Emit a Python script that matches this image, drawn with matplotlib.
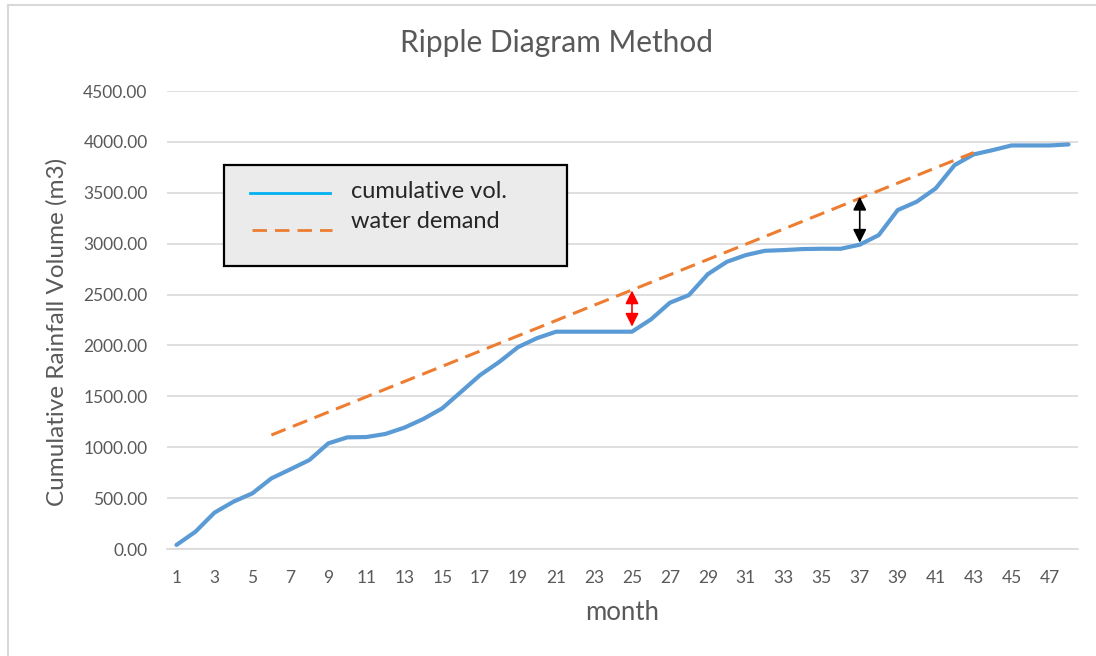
import matplotlib.pyplot as plt
from matplotlib.lines import Line2D
from matplotlib.patches import Rectangle

# monthly cumulative rainfall volume (m3), months 1..48
months = list(range(1, 49))
cumulative_vol = [40, 170, 357, 465, 547, 694, 783, 874, 1038, 1097,
                  1100, 1130, 1192, 1277, 1382, 1545, 1709, 1837, 1984, 2072,
                  2135, 2135, 2135, 2135, 2135, 2256, 2420, 2495, 2701, 2822,
                  2888, 2930, 2937, 2947, 2950, 2950, 2990, 3084, 3330, 3412,
                  3543, 3772, 3877, 3919, 3965, 3965, 3965, 3975]

# water demand line (straight), read at its two ends
demand_months = [6, 43]
demand_vals = [1120, 3895]

# gap arrows between demand and cumulative volume
gap_months = [25, 37]
gap_tops = [2540, 3460]
gap_bottoms = [2185, 3010]
gap_colors = ['red', 'black']

y_ticks = list(range(0, 4501, 500))
x_tick_labels = list(range(1, 48, 2))

plt.rcParams['font.family'] = ['Lato', 'DejaVu Sans']
text_col = '#595959'
W, H = 1096, 656


def px(x, y):
    # pixel position -> figure fraction
    return x / W, 1 - y / H


fig = plt.figure(figsize=(W / 100, H / 100), dpi=100)
ax = fig.add_axes([167 / W, 1 - 549 / H, (1078 - 167) / W, (549 - 91) / H])

ax.plot(months, cumulative_vol, color='#5B9BD5', lw=3.0, solid_joinstyle='round',
        solid_capstyle='round', zorder=3)
ax.plot(demand_months, demand_vals, color='#ED7D31', lw=2.2, dashes=(5, 2.6), zorder=4)

for m, top, bot, c in zip(gap_months, gap_tops, gap_bottoms, gap_colors):
    ax.annotate('', xy=(m, bot), xytext=(m, top),
                arrowprops=dict(arrowstyle='<|-|>', color=c, lw=1.2, mutation_scale=20,
                                shrinkA=0, shrinkB=0), zorder=5)

ax.set_xlim(0.5, 48.5)
ax.set_ylim(0, 4500)
ax.set_yticks(y_ticks)
ax.set_yticklabels([f'{v:.2f}' for v in y_ticks])
ax.set_xticks(x_tick_labels)
ax.set_xticklabels([str(v) for v in x_tick_labels])
ax.tick_params(axis='both', length=0, labelsize=12.5, labelcolor=text_col)
ax.tick_params(axis='x', pad=15)
ax.tick_params(axis='y', pad=14)
ax.grid(axis='y', color='#D9D9D9', lw=1.2, zorder=0)
ax.set_axisbelow(True)
for s in ['top', 'right', 'left']:
    ax.spines[s].set_visible(False)
ax.spines['bottom'].set_color('#D9D9D9')
ax.spines['bottom'].set_linewidth(1.2)

fig.text(*px(556, 43), 'Ripple Diagram Method', fontsize=21.5, color=text_col,
         ha='center', va='center')
fig.text(*px(622, 612), 'month', fontsize=18.5, color=text_col, ha='center', va='center')
fig.text(*px(57, 332), 'Cumulative Rainfall Volume (m3)', fontsize=17.5, color=text_col,
         ha='center', va='center', rotation=90)

# legend box, drawn by hand to match the padded frame
x0, y0 = px(224, 266)
x1, y1 = px(567, 165)
fig.add_artist(Rectangle((x0, y0), x1 - x0, y1 - y0, transform=fig.transFigure,
                         facecolor='#EBEBEB', edgecolor='black', lw=1.6, zorder=6))
fig.add_artist(Line2D(*zip(px(250, 193), px(330, 193)), color='#00B0F0', lw=2.0, zorder=7))
fig.add_artist(Line2D(*zip(px(252, 230), px(332, 230)), color='#ED7D31', lw=2.0,
                      dashes=(5.2, 2.9), zorder=7))
fig.text(*px(351, 192), 'cumulative vol.', fontsize=17, color='#262626',
         va='center', zorder=7)
fig.text(*px(351, 222), 'water demand', fontsize=17, color='#262626',
         va='center', zorder=7)

# chart frame
fig.add_artist(Line2D([8 / W, 1], [1 - 5 / H, 1 - 5 / H], color='#D9D9D9', lw=1.5))
fig.add_artist(Line2D([8 / W, 8 / W], [0, 1 - 5 / H], color='#D9D9D9', lw=1.5))

fig.savefig('out.png', dpi=100)
